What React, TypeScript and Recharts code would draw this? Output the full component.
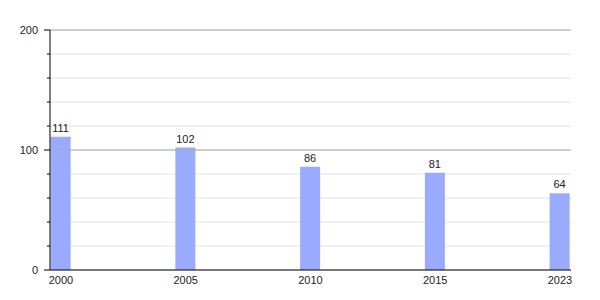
import { BarChart, Bar, XAxis, YAxis, CartesianGrid, ReferenceLine, LabelList } from 'recharts';

const years = ['2000', '2005', '2010', '2015', '2023'];
const values = [111, 102, 86, 81, 64];
const yTicks = [0, 20, 40, 60, 80, 100, 120, 140, 160, 180, 200];
const majorTicks = [0, 100, 200];

const data = years.map((year, i) => ({ idx: i, year, value: values[i] }));

const FONT = '"Liberation Sans", Arial, sans-serif';

// y ticks: long mark + label on majors, short mark only on the rest
const YTick = ({ x, y, payload }: any) => {
  const major = majorTicks.includes(payload.value);
  const ax = x + 8;
  return (
    <g>
      <line x1={ax - (major ? 6 : 3)} x2={ax} y1={y} y2={y} stroke="#000" strokeWidth={1} />
      {major && (
        <text x={ax - 12} y={y} dy={4} textAnchor="end" fontSize={11} fill="#222" fontFamily={FONT}>
          {payload.value}
        </text>
      )}
    </g>
  );
};

export default function App() {
  return (
    <div style={{ position: 'absolute', left: 0, top: 0, background: '#fff' }}>
      <BarChart width={600} height={300} data={data} margin={{ top: 30, right: 29, left: 0, bottom: 10 }} barSize={20}>
        <CartesianGrid horizontal vertical={false} stroke="#e2e2e2" />
        <ReferenceLine y={100} stroke="#aaa" />
        <ReferenceLine y={200} stroke="#aaa" />
        <XAxis
          dataKey="idx"
          type="number"
          domain={[0, 4]}
          ticks={[0, 1, 2, 3, 4]}
          padding={{ left: 11, right: 11 }}
          tickFormatter={(v: number) => years[v]}
          tickLine={false}
          axisLine={{ stroke: '#000' }}
          height={20}
          tick={{ fontSize: 11, fill: '#222', fontFamily: FONT, dy: -2 }}
          interval={0}
        />
        <YAxis
          domain={[0, 200]}
          ticks={yTicks}
          interval={0}
          width={50}
          tickLine={false}
          axisLine={{ stroke: '#000' }}
          tick={<YTick />}
        />
        <Bar dataKey="value" fill="#99aaff" isAnimationActive={false}>
          <LabelList dataKey="value" position="top" offset={5} fontSize={11} fill="#222" fontFamily={FONT} />
        </Bar>
      </BarChart>
    </div>
  );
}
